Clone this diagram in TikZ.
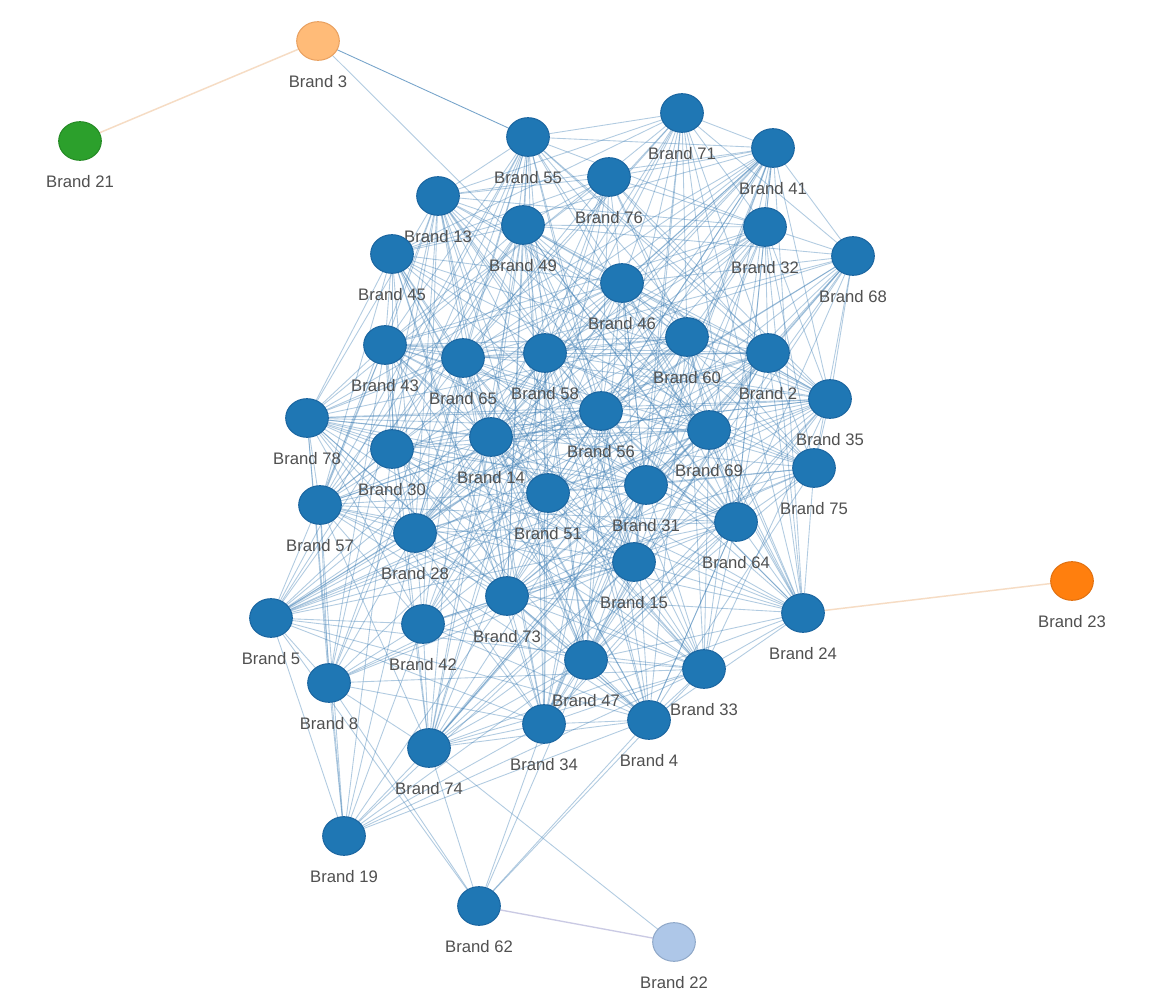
\documentclass[tikz,border=0pt]{standalone}
\usepackage{fontspec}
\setmainfont{Liberation Sans}
\usetikzlibrary{backgrounds,shapes.geometric}
\definecolor{nblue}{HTML}{1F77B4}
\definecolor{nbluedark}{HTML}{1A65A0}
\definecolor{eblue}{RGB}{60,125,180}
\definecolor{lorange}{HTML}{FFBB78}
\definecolor{lorangedark}{HTML}{E8A060}
\definecolor{dorange}{HTML}{FF7F0E}
\definecolor{dorangedark}{HTML}{E07010}
\definecolor{ngreen}{HTML}{2CA02C}
\definecolor{ngreendark}{HTML}{248A24}
\definecolor{lblue}{HTML}{AEC7E8}
\definecolor{lbluedark}{HTML}{8FA8C8}
\definecolor{lbltxt}{HTML}{505050}
\definecolor{oedge}{HTML}{F6DCC4}
\definecolor{pedge}{HTML}{CACAE4}
\def\corelist{55/528/137,71/682/113,41/773/148,76/609/177,13/438/196,49/523/225,32/765/227,68/853/256,45/392/254,46/622/283,60/687/337,43/385/345,65/463/358,58/545/353,2/768/353,35/830/399,78/307/418,56/601/411,30/392/449,14/491/437,69/709/430,75/814/468,51/548/493,31/646/485,57/320/505,28/415/533,64/736/522,15/634/562,73/507/596,24/803/613,5/271/618,42/423/624,47/586/660,33/704/669,8/329/683,34/544/724,4/649/720,74/429/748}
\tikzset{
  brandnode/.style={ellipse, minimum width=32pt, minimum height=29pt, inner sep=0pt, line width=0.75pt,
    label={[font=\fontsize{12.5pt}{14pt}\selectfont, text=lbltxt, inner sep=0pt, label distance=10.5pt]below:#1}},
  bnode/.style={brandnode=#1, fill=nblue, draw=nbluedark},
  edge/.style={draw=eblue, opacity=0.4, line width=0.65pt},
  oline/.style={draw=oedge, line width=1.1pt},
  pline/.style={draw=pedge, line width=1pt},
}
\begin{document}
\begin{tikzpicture}[x=0.75pt,y=-0.75pt]
\useasboundingbox (0,0) rectangle (1160,1005);
% core nodes
\foreach \n/\x/\y in \corelist {
  \node[bnode={Brand \n}] (n\n) at (\x,\y) {};
}
\node[bnode={Brand 19}] (n19) at (344,836) {};
\node[bnode={Brand 62}] (n62) at (479,906) {};
\node[brandnode={Brand 3}, fill=lorange, draw=lorangedark] (n3) at (318,41) {};
\node[brandnode={Brand 21}, fill=ngreen, draw=ngreendark] (n21) at (80,141) {};
\node[brandnode={Brand 23}, fill=dorange, draw=dorangedark] (n23) at (1072,581) {};
\node[brandnode={Brand 22}, fill=lblue, draw=lbluedark] (n22) at (674,942) {};
\begin{pgfonlayer}{background}
\fill[white] (0,0) rectangle (1160,1005);
\pgfmathsetseed{4711}
\foreach \a/\ax/\ay [count=\i] in \corelist {
  \foreach \b/\bx/\by [count=\j] in \corelist {
    \ifnum\j>\i
      \pgfmathsetmacro\d{veclen(\bx-\ax,\by-\ay)}
      \pgfmathsetmacro\p{0.97-0.55*\d/600}
      \pgfmathtruncatemacro\ok{rnd<\p}
      \ifnum\ok=1 \draw[edge] (n\a.center) -- (n\b.center); \fi
    \fi
  }
}
\foreach \b in {5,8,57,78,42,28,74,73,34,47,4,33,15,30} {
  \draw[edge] (n19.center) -- (n\b.center);
}
\foreach \b in {8,5,74,34,47,4,33} {
  \draw[edge] (n62.center) -- (n\b.center);
}
\draw[edge] (n74.center) -- (n22.center);
\draw[edge] (n3.center) -- (n69.center);
\draw[edge, opacity=0.7] (n3.center) -- (n55.center);
\draw[oline] (n3.center) -- (n21.center);
\draw[oline] (n24.center) -- (n23.center);
\draw[pline] (n62.center) -- (n22.center);
\end{pgfonlayer}
\end{tikzpicture}
\end{document}
